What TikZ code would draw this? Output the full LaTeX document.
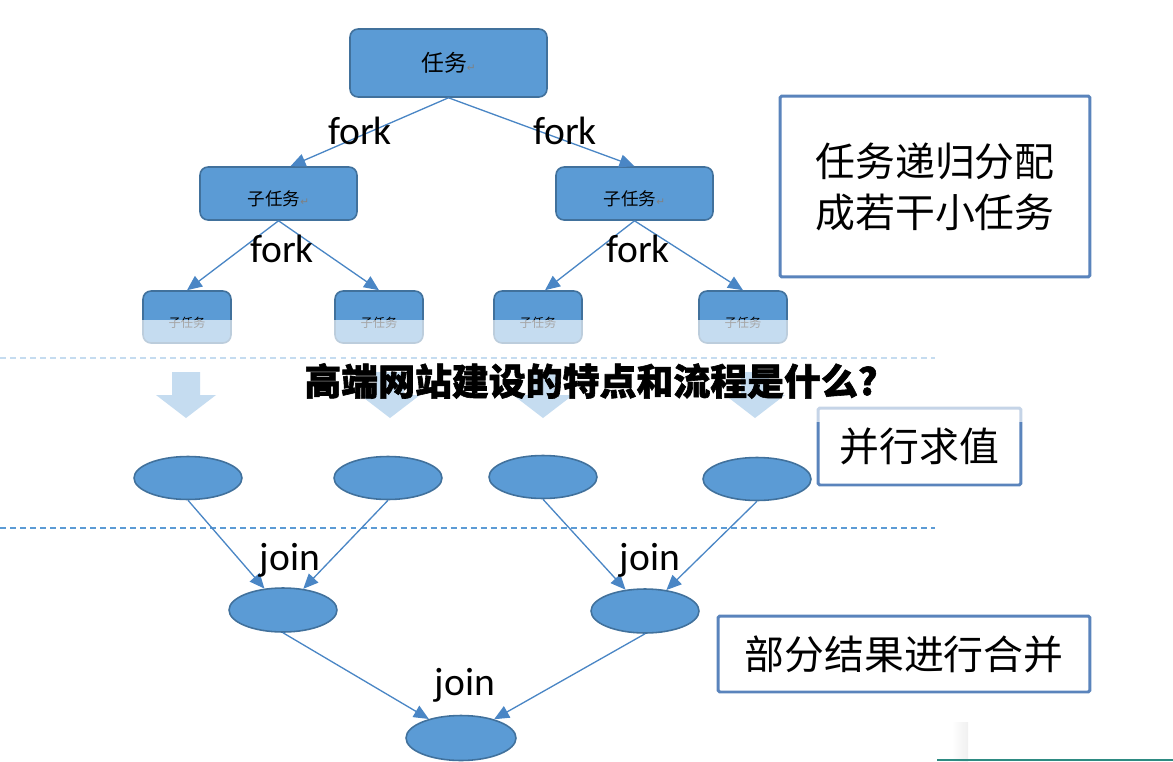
\documentclass[tikz,border=0pt]{standalone}
\usepackage{fontspec}
\setmainfont{Carlito}
\newfontfamily\cjk{Noto Sans CJK SC}
\newfontfamily\cjkheavy{Noto Sans CJK SC}[BoldFeatures={FakeBold=1.6}]
\newfontfamily\symfont{DejaVu Sans}
\usetikzlibrary{arrows.meta,shapes.geometric}
\definecolor{taskblue}{HTML}{5B9BD5}
\definecolor{taskedge}{HTML}{41719C}
\definecolor{linkblue}{HTML}{4A86C5}
\definecolor{frameblue}{HTML}{5A84BC}
\definecolor{shadeline}{HTML}{2E8B82}
\newcommand{\retmark}{{\symfont\color{gray}\fontsize{6}{6}\selectfont ↵}}

\begin{document}
\begin{tikzpicture}[x=0.02cm,y=-0.02cm,
    task/.style={draw=taskedge, fill=taskblue, rounded corners=0.16cm, line width=0.9pt, inner sep=0pt},
    leaf/.style={ellipse, draw=taskedge, fill=taskblue, line width=0.9pt, inner sep=0pt,
                 minimum width=2.16cm, minimum height=0.86cm},
    link/.style={draw=linkblue, line width=0.75pt, -{Triangle[length=0.3cm,width=0.26cm]}},
    tag/.style={font=\fontsize{22.5}{27}\selectfont, anchor=base, inner sep=0pt},
    note/.style={draw=frameblue, line width=1.7pt, fill=white, rounded corners=1pt, inner sep=0pt,
                 font=\cjk\fontsize{22.7}{29}\selectfont, align=center},
    sep/.style={taskblue, line width=0.6pt, dash pattern=on 3.4pt off 2.3pt}]
  \useasboundingbox (0,0) rectangle (1173,761);

  % fork levels
  \node[task, minimum width=3.94cm, minimum height=1.36cm] (root) at (448.5,63)
    {\cjk\fontsize{13}{15}\selectfont 任务\retmark};
  \node[task, minimum width=3.14cm, minimum height=1.06cm,
        label={[yshift=-0.11cm, font=\cjk\fontsize{10}{12}\selectfont]center:子任务\retmark}] (suba) at (278.5,193.5) {};
  \node[task, minimum width=3.14cm, minimum height=1.06cm,
        label={[yshift=-0.11cm, font=\cjk\fontsize{10}{12}\selectfont]center:子任务\retmark}] (subb) at (634.5,193.5) {};
  \foreach \nm/\x in {leafa/187, leafb/379, leafc/538, leafd/743}
    \node[task, minimum width=1.76cm, minimum height=1.04cm,
          label={[yshift=-0.12cm, font=\cjk\fontsize{7}{8}\selectfont]center:子任务}] (\nm) at (\x,317) {};

  \draw[link] (root.south) -- ([xshift=0.24cm]suba.north);
  \draw[link] (root.south) -- (subb.north);
  \draw[link] (suba.south) -- (leafa.north);
  \draw[link] (suba.south) -- (leafb.north);
  \draw[link] (subb.south) -- ([xshift=0.14cm]leafc.north);
  \draw[link] (subb.south) -- (leafd.north);

  \node[tag] (forka) at (360,144) {fork};
  \node[tag] (forkb) at (565,144) {fork};
  \node[tag] (forkc) at (282,262) {fork};
  \node[tag] (forkd) at (638,262) {fork};

  % separators and block arrows
  \draw[sep] (0,358) -- (935,358);
  \draw[sep] (0,528) -- (935,528);
  \foreach \x in {186,390,543,755}
    \fill[taskblue] (\x-14,372) -- (\x+14,372) -- (\x+14,395) -- (\x+30,395)
      -- (\x,418) -- (\x-30,395) -- (\x-14,395) -- cycle;

  % join levels
  \node[leaf] (vala) at (188,478) {};
  \node[leaf] (valb) at (388,478) {};
  \node[leaf] (valc) at (543,477) {};
  \node[leaf] (vald) at (757,479) {};
  \node[leaf, minimum height=0.88cm] (mrga) at (283,610) {};
  \node[leaf, minimum height=0.88cm] (mrgb) at (645,611) {};
  \node[leaf, minimum width=2.2cm, minimum height=0.9cm] (final) at (461,738) {};

  \draw[link] (vala.south) -- (mrga);
  \draw[link] (valb.south) -- (mrga);
  \draw[link] (valc.south) -- (mrgb);
  \draw[link] (vald.south) -- (mrgb);
  \draw[link] (mrga.south) -- (final);
  \draw[link] (mrgb.south) -- (final);

  \node[tag] (joina) at (290,570) {join};
  \node[tag] (joinb) at (650,570) {join};
  \node[tag] (joinc) at (465,695) {join};

  % notes
  \node[note, minimum width=6.2cm, minimum height=3.62cm] (splitnote) at (935,186.5)
    {任务递归分配\\成若干小任务};
  \node[note, minimum width=4.06cm, minimum height=1.54cm] (evalnote) at (919.5,446.5) {并行求值};
  \node[note, minimum width=7.44cm, minimum height=1.52cm] (mergenote) at (904,654) {部分结果进行合并};

  % faded band and headline
  \fill[white, opacity=0.65] (0,320) rectangle (1173,422);
  \node[font=\cjkheavy\bfseries\fontsize{21}{24}\selectfont] (headline) at (591,381)
    {高端网站建设的特点和流程是什么?};

  % corner remnant
  \shade[left color=white, right color=black!6] (952,722) rectangle (968,761);
  \draw[shadeline, line width=0.8pt] (937,760) -- (1173,760);
\end{tikzpicture}
\end{document}
